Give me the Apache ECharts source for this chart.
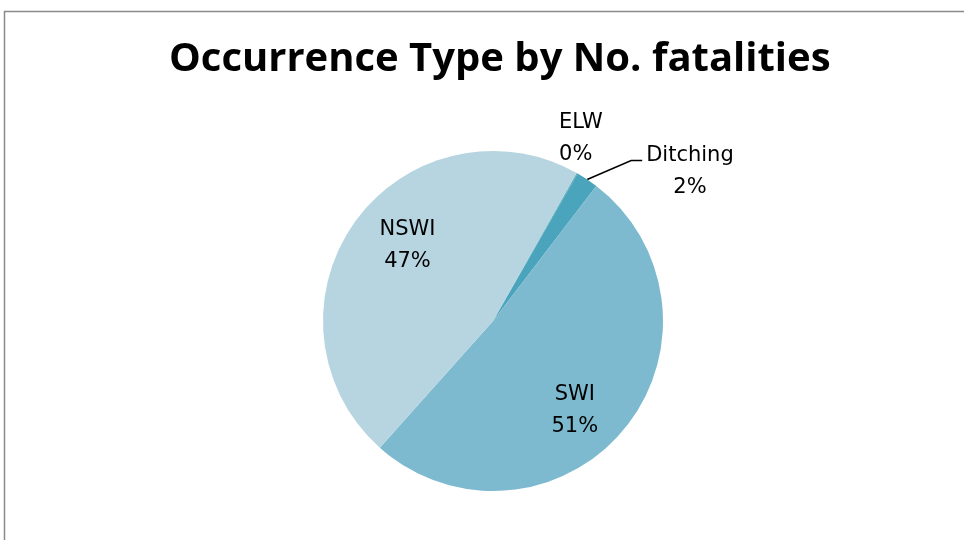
<!DOCTYPE html>
<html>
<head>
<meta charset="utf-8">
<script src="https://cdn.jsdelivr.net/npm/echarts@6/dist/echarts.min.js"></script>
<style>
html, body { margin: 0; padding: 0; background: #fff; }
#chart { width: 964px; height: 540px; }
</style>
</head>
<body>
<div id="chart"></div>
<script>
// occurrence types, share of fatalities (%)
var categories = ['ELW', 'Ditching', 'SWI', 'NSWI'];
var values = [0.1, 2.1, 51.2, 46.6];
var colors = ['#4aa4bb', '#4aa4bb', '#7dbacf', '#b7d5e0'];

// nudges for the labels, Excel "best fit" style
var labelShift = {
    'ELW': [-48, -9],
    'Ditching': [0, 0],
    'SWI': [14, 33],
    'NSWI': [-14, -24]
};

var chart = echarts.init(document.getElementById('chart'));

var data = [];
for (var i = 0; i < categories.length; i++) {
    var inside = categories[i] === 'SWI' || categories[i] === 'NSWI';
    data.push({
        name: categories[i],
        value: values[i],
        itemStyle: { color: colors[i] },
        label: { position: inside ? 'inside' : 'outside' },
        labelLine: { show: categories[i] === 'Ditching' }
    });
}

var option = {
    animation: false,
    title: {
        text: 'Occurrence Type by No. fatalities',
        left: 164,
        top: 35,
        textStyle: {
            fontFamily: 'Open Sans',
            fontWeight: 'bold',
            fontSize: 40,
            color: '#000'
        }
    },
    graphic: [{
        type: 'rect',
        shape: { x: 4.5, y: 11.5, width: 1200, height: 800 },
        style: { fill: 'none', stroke: '#8a8a8a', lineWidth: 1.5 },
        silent: true
    }],
    series: [{
        type: 'pie',
        center: [493, 321],
        radius: 170,
        startAngle: 60.5,
        clockwise: true,
        avoidLabelOverlap: false,
        label: {
            fontFamily: 'DejaVu Sans',
            fontSize: 21,
            lineHeight: 32,
            color: '#000',
            align: 'center',
            formatter: function (p) {
                return p.name + '\n' + Math.round(p.percent) + '%';
            }
        },
        labelLine: {
            length: 30,
            length2: 10,
            lineStyle: { color: '#000', width: 1.5 }
        },
        labelLayout: function (p) {
            var name = categories[p.dataIndex];
            if (name === 'Ditching' && p.labelLinePoints) {
                // bent leader like Excel's: short diagonal then a small flat tail
                var a = p.labelLinePoints[0];
                var b = [a[0] + 44, a[1] - 19];
                var c = [b[0] + 11, b[1]];
                return {
                    x: c[0] + 4 + p.labelRect.width / 2,
                    y: c[1] - 21,
                    align: 'center',
                    verticalAlign: 'top',
                    labelLinePoints: [a, b, c]
                };
            }
            var s = labelShift[name];
            return { dx: s[0], dy: s[1] };
        },
        data: data
    }]
};
chart.setOption(option);
</script>
</body>
</html>
